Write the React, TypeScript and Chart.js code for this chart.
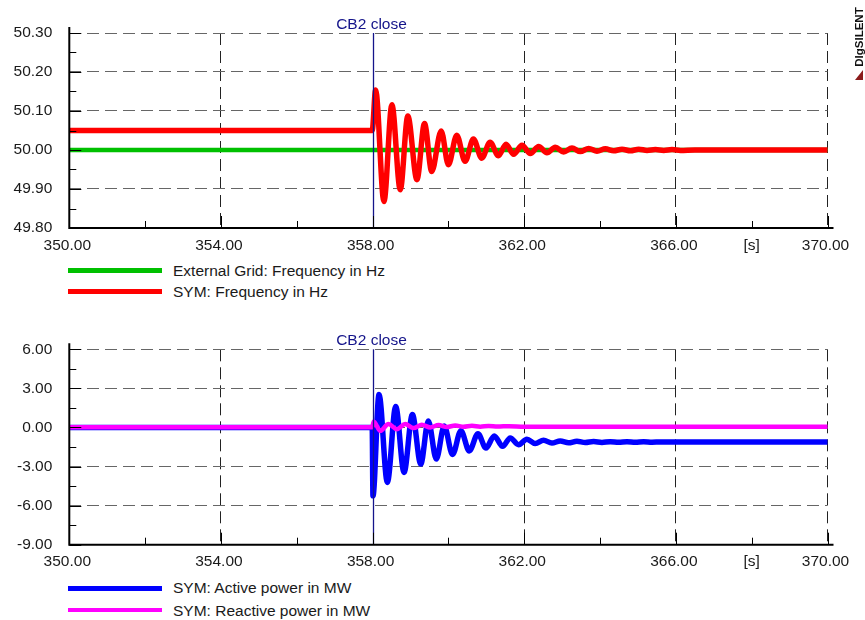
import React, { useEffect, useRef } from "react";
import { Chart, registerables } from "chart.js";

Chart.register(...registerables);

// ---------------- data ----------------
const TIME_MIN = 350;
const TIME_MAX = 370;
const TIME_STEP = 4;
const CB2_TIME = 358;
const CB2_LABEL = "CB2 close";
const X_UNIT_LABEL = "[s]";
const X_UNIT_AT = 368;

const FREQ_Y_MIN = 49.8;
const FREQ_Y_MAX = 50.3;
const FREQ_Y_STEP = 0.1;

const POWER_Y_MIN = -9;
const POWER_Y_MAX = 6;
const POWER_Y_STEP = 3;

const gridFreqTime = [350, 370];
const gridFreqValue = [50.0, 50.0];

const symFreqTime = [
  350, 357.99, 358.08, 358.3, 358.51, 358.73, 358.93, 359.17, 359.37, 359.56,
  359.81, 360.0, 360.22, 360.44, 360.66, 360.88, 361.1, 361.32, 361.52, 361.72,
  361.94, 362.16, 362.38, 362.6, 362.82, 363.04, 363.26, 363.48, 363.7, 363.92,
  364.14, 364.36, 364.58, 364.8, 365.02, 365.24, 365.46, 365.68, 365.9, 366.12,
  366.5, 370,
];
const symFreqValue = [
  50.05, 50.05, 50.154, 49.868, 50.116, 49.898, 50.087, 49.924, 50.068, 49.945,
  50.049, 49.962, 50.038, 49.971, 50.028, 49.979, 50.02, 49.985, 50.015, 49.989,
  50.012, 49.991, 50.009, 49.993, 50.007, 49.995, 50.005, 49.996, 50.004, 49.997,
  50.003, 49.998, 50.002, 49.998, 50.002, 49.999, 50.001, 49.999, 50.001, 49.999,
  50.0, 50.0,
];

const activeTime = [
  350, 357.99, 358.01, 358.17, 358.39, 358.61, 358.83, 359.05, 359.27, 359.47,
  359.68, 359.89, 360.11, 360.33, 360.55, 360.78, 360.99, 361.21, 361.43, 361.63,
  361.85, 362.07, 362.29, 362.51, 362.73, 362.95, 363.17, 363.39, 363.61, 363.83,
  364.05, 364.27, 364.49, 364.71, 364.93, 365.15, 365.37, 365.6, 366.0, 370,
];
const activeValue = [
  0.0, 0.0, -5.25, 2.53, -4.22, 1.61, -3.45, 0.99, -2.81, 0.5,
  -2.42, 0.12, -2.07, -0.25, -1.8, -0.48, -1.58, -0.65, -1.45, -0.8,
  -1.32, -0.9, -1.24, -0.98, -1.2, -1.03, -1.18, -1.06, -1.16, -1.08,
  -1.15, -1.09, -1.14, -1.1, -1.14, -1.1, -1.13, -1.11, -1.12, -1.12,
];

const reactiveTime = [
  350, 357.99, 358.03, 358.2, 358.42, 358.64, 358.86, 359.08, 359.3, 359.52,
  359.74, 359.96, 360.18, 360.4, 360.62, 360.84, 361.06, 361.3, 361.6, 362.0, 370,
];
const reactiveValue = [
  0.02, 0.02, 0.46, -0.26, 0.26, -0.13, 0.26, -0.05, 0.2, 0.0,
  0.18, 0.03, 0.15, 0.05, 0.13, 0.06, 0.11, 0.07, 0.1, 0.06, 0.06,
];

const topLegendLabels = ["External Grid: Frequency in Hz", "SYM: Frequency in Hz"];
const topLegendColors = ["#00c000", "#ff0000"];
const bottomLegendLabels = ["SYM: Active power in MW", "SYM: Reactive power in MW"];
const bottomLegendColors = ["#0000ff", "#ff00ff"];

// ---------------- style ----------------
const FONT = '"Liberation Sans", Arial, Helvetica, sans-serif';
const FONT_SIZE = 15.5;
const NAVY = "#14148a";
const TEXT = "#1a1a1a";
const CANVAS_W = 865;
const CANVAS_H = 260;

const toXY = (t: number[], v: number[]) => t.map((x, i) => ({ x, y: v[i] }));

function decorPlugin() {
  return {
    id: "decor",
    afterDatasetsDraw(chart: any) {
      const { ctx, chartArea: a, scales } = chart;
      const x = scales.x;
      const y = scales.y;
      ctx.save();
      // CB2 marker
      const cx = Math.round(x.getPixelForValue(CB2_TIME)) + 0.5;
      ctx.strokeStyle = NAVY;
      ctx.lineWidth = 1.3;
      ctx.beginPath();
      ctx.moveTo(cx, a.top);
      ctx.lineTo(cx, a.bottom);
      ctx.stroke();
      ctx.fillStyle = NAVY;
      ctx.font = `${FONT_SIZE}px ${FONT}`;
      ctx.textAlign = "center";
      ctx.textBaseline = "alphabetic";
      ctx.fillText(CB2_LABEL, cx - 2, a.top - 4);

      // axes
      ctx.strokeStyle = "#000";
      ctx.lineWidth = 2;
      ctx.beginPath();
      ctx.moveTo(a.left, a.top - 6);
      ctx.lineTo(a.left, a.bottom);
      ctx.lineTo(a.right + 6, a.bottom);
      ctx.stroke();

      // ticks
      ctx.lineWidth = 1;
      const yv = y.ticks.map((t: any) => t.value);
      yv.forEach((v: number, i: number) => {
        const py = Math.round(y.getPixelForValue(v)) + 0.5;
        ctx.beginPath();
        ctx.moveTo(a.left, py);
        ctx.lineTo(a.left + 12, py);
        ctx.stroke();
        if (i < yv.length - 1) {
          const pm = Math.round(y.getPixelForValue((v + yv[i + 1]) / 2)) + 0.5;
          ctx.beginPath();
          ctx.moveTo(a.left, pm);
          ctx.lineTo(a.left + 7, pm);
          ctx.stroke();
        }
      });
      const xv = x.ticks.map((t: any) => t.value);
      xv.forEach((v: number, i: number) => {
        const px = Math.round(x.getPixelForValue(v)) + 0.5;
        ctx.beginPath();
        ctx.moveTo(px, a.bottom);
        ctx.lineTo(px, a.bottom - 12);
        ctx.stroke();
        if (i < xv.length - 1) {
          const pm = Math.round(x.getPixelForValue((v + xv[i + 1]) / 2)) + 0.5;
          ctx.beginPath();
          ctx.moveTo(pm, a.bottom);
          ctx.lineTo(pm, a.bottom - 7);
          ctx.stroke();
        }
      });

      // unit label
      ctx.fillStyle = TEXT;
      ctx.textAlign = "center";
      ctx.textBaseline = "middle";
      ctx.fillText(X_UNIT_LABEL, x.getPixelForValue(X_UNIT_AT), a.bottom + 17.5);
      ctx.restore();
    },
  };
}

function makeConfig(datasets: any[], yMin: number, yMax: number, yStep: number, padTop: number, xHeight: number) {
  return {
    type: "line",
    data: { datasets },
    options: {
      animation: false,
      responsive: false,
      devicePixelRatio: 1,
      events: [],
      layout: { padding: { left: 0, right: CANVAS_W - 827.5, top: padTop, bottom: 0 } },
      elements: { point: { radius: 0 }, line: { cubicInterpolationMode: "monotone", borderCapStyle: "round", borderJoinStyle: "round" } },
      plugins: { legend: { display: false }, tooltip: { enabled: false } },
      scales: {
        x: {
          type: "linear",
          min: TIME_MIN,
          max: TIME_MAX,
          afterFit: (s: any) => { s.height = xHeight; },
          grid: {
            color: (c: any) => (c.tick && Math.abs(c.tick.value - CB2_TIME) < 1e-6 ? "rgba(0,0,0,0)" : "#222"),
            lineWidth: 1,
            drawTicks: false,
          },
          border: { display: false, dash: [12, 6] },
          ticks: {
            stepSize: TIME_STEP,
            autoSkip: false,
            maxRotation: 0,
            padding: 8,
            labelOffset: -2,
            color: TEXT,
            font: { family: FONT, size: FONT_SIZE },
            callback: (v: any) => Number(v).toFixed(2),
          },
        },
        y: {
          type: "linear",
          min: yMin,
          max: yMax,
          afterFit: (s: any) => { s.width = 69.3; },
          grid: { color: "#666", lineWidth: 1, drawTicks: false },
          border: { display: false, dash: [12, 6] },
          ticks: {
            stepSize: yStep,
            autoSkip: false,
            padding: 17,
            color: TEXT,
            font: { family: FONT, size: FONT_SIZE },
            callback: (v: any) => Number(v).toFixed(2),
          },
        },
      },
    },
    plugins: [decorPlugin()],
  } as any;
}

function Panel({ top, datasets, yMin, yMax, yStep, padTop, xHeight }: any) {
  const ref = useRef<HTMLCanvasElement>(null);
  useEffect(() => {
    const chart = new Chart(ref.current as HTMLCanvasElement, makeConfig(datasets, yMin, yMax, yStep, padTop, xHeight));
    return () => chart.destroy();
  }, []);
  return (
    <canvas
      ref={ref}
      width={CANVAS_W}
      height={CANVAS_H}
      style={{ position: "absolute", left: 0, top, width: CANVAS_W, height: CANVAS_H }}
    />
  );
}

function LegendRow({ color, label, lineY, textTop }: any) {
  return (
    <>
      <div style={{ position: "absolute", left: 68, top: lineY - 2.25, width: 94, height: 4.5, background: color }} />
      <div
        style={{
          position: "absolute",
          left: 173,
          top: textTop,
          font: `${FONT_SIZE}px ${FONT}`,
          lineHeight: "18px",
          color: TEXT,
          whiteSpace: "nowrap",
        }}
      >
        {label}
      </div>
    </>
  );
}

export default function App() {
  const topDatasets = [
    { label: topLegendLabels[1], data: toXY(symFreqTime, symFreqValue), borderColor: topLegendColors[1], borderWidth: 5.5 },
    { label: topLegendLabels[0], data: toXY(gridFreqTime, gridFreqValue), borderColor: topLegendColors[0], borderWidth: 4.5 },
  ];
  const bottomDatasets = [
    { label: bottomLegendLabels[1], data: toXY(reactiveTime, reactiveValue), borderColor: bottomLegendColors[1], borderWidth: 4.5 },
    { label: bottomLegendLabels[0], data: toXY(activeTime, activeValue), borderColor: bottomLegendColors[0], borderWidth: 5.5 },
  ];
  return (
    <div style={{ position: "absolute", left: 0, top: 0, width: 865, height: 620, background: "#fff", overflow: "hidden" }}>
      <Panel top={0} datasets={topDatasets} yMin={FREQ_Y_MIN} yMax={FREQ_Y_MAX} yStep={FREQ_Y_STEP} padTop={33} xHeight={32} />
      <Panel top={316} datasets={bottomDatasets} yMin={POWER_Y_MIN} yMax={POWER_Y_MAX} yStep={POWER_Y_STEP} padTop={33.3} xHeight={31.3} />

      <LegendRow color={topLegendColors[0]} label={topLegendLabels[0]} lineY={270.7} textTop={262} />
      <LegendRow color={topLegendColors[1]} label={topLegendLabels[1]} lineY={291.7} textTop={283} />
      <LegendRow color={bottomLegendColors[0]} label={bottomLegendLabels[0]} lineY={588.3} textTop={579} />
      <LegendRow color={bottomLegendColors[1]} label={bottomLegendLabels[1]} lineY={610} textTop={601.5} />

      <div
        style={{
          position: "absolute",
          left: 858.5,
          top: 37,
          transform: "translate(-50%, -50%) rotate(-90deg)",
          font: `bold 11.5px ${FONT}`,
          color: "#111",
          whiteSpace: "nowrap",
          lineHeight: "12px",
        }}
      >
        DIgSILENT
      </div>
      <svg style={{ position: "absolute", left: 854, top: 69 }} width={10} height={12}>
        <polygon points="9,1 9,11 1,11" fill="#8b1a1a" />
      </svg>
    </div>
  );
}
